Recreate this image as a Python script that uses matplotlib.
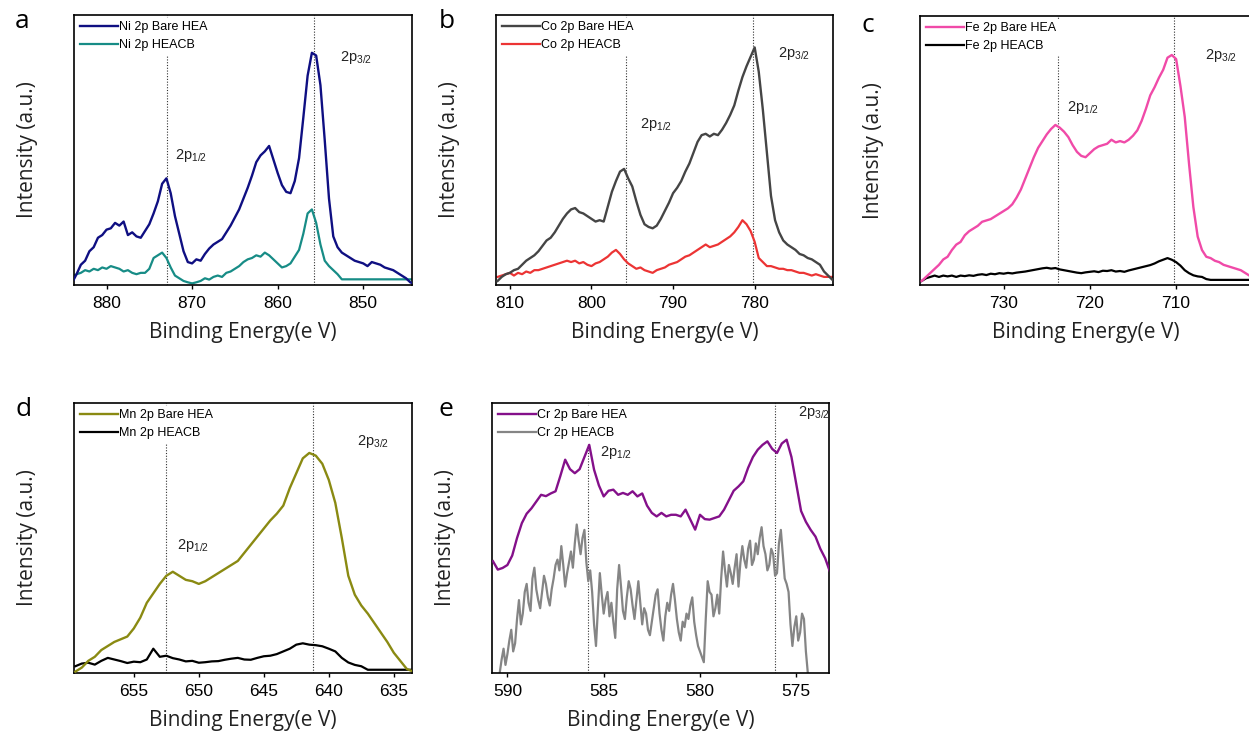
#!/usr/bin/env python3
"""
XPS 2p spectra of bare HEA vs HEACB (Ni, Co, Fe, Mn, Cr), five panels.
"""

import numpy as np
import matplotlib
matplotlib.use("Agg")
import matplotlib.pyplot as plt

# ---------------- data (intensity in arbitrary units, 0-100) ----------------
# Ni 2p : 884.0 eV downward, 0.5 eV step
ni_start, ni_step = 884.0, 0.5
ni_bare = [1, 4, 7.5, 9, 12.5, 14, 17.5, 18.5, 20.5, 21, 23, 22, 23.5, 18.5, 19.5, 18,
           17.5, 20, 22.5, 26.5, 31, 37.5, 39.5, 34, 25.5, 19, 12.5, 8.5, 8, 9.5, 9, 11.5,
           13.5, 15, 16, 17, 19.5, 22, 25, 28, 32, 36, 40.5, 45.5, 48, 49.5, 51.5, 46.5,
           41.5, 37, 34.5, 34, 38.5, 47, 62, 77.5, 86, 85, 74, 53.7, 32, 18, 14, 12, 11,
           10, 9, 8.5, 8, 7, 8.5, 8, 7.5, 6.5, 6, 5.5, 4.5, 3.5, 2.5, 1, 0.3]
ni_heacb = [3, 4, 4.5, 5.5, 5, 6, 5.5, 6.5, 6, 7, 6.5, 6, 5, 5.5, 4.5, 4, 4.5, 4.5, 6,
            10, 11, 12, 10, 6.5, 3.5, 2.5, 1.5, 1, 0.6, 1, 1.5, 2.5, 2, 3, 3.5, 3, 4.5,
            5, 6, 7, 8.5, 9.5, 10, 11, 10.5, 12, 11, 9.5, 8, 6.5, 7, 8, 10.5, 13, 19,
            26.5, 28, 23, 15, 9, 7, 5.5, 4, 2.1, 2.1, 2.1, 2.1, 2.1, 2.1, 2.1, 2.1, 2.1,
            2.1, 2.1, 2.1, 2.1, 2.1, 2.1, 2.1, 2.1, 2.1]

# Co 2p : 811.5 eV downward, 0.5 eV step
co_start, co_step = 811.5, 0.5
co_bare = [1.5, 3, 4, 4.5, 5.5, 6, 7.5, 9, 10, 11, 12.5, 14.5, 16.5, 17.5, 19.5, 22,
           24.5, 26.5, 28, 28.5, 27, 26.5, 25.5, 24.5, 23.5, 24, 23.5, 29, 34.5, 38.5,
           42, 43, 39.5, 36.5, 31, 26, 22.5, 21.5, 21, 22, 24.5, 27.5, 30.5, 34, 36,
           38.5, 42, 45, 49, 53, 55.5, 56, 55, 56, 55.5, 57.5, 60, 63, 66.5, 72, 77, 81,
           84.5, 88, 79, 65, 49, 33, 24, 19.5, 16.5, 15, 14, 13, 11.5, 11, 10, 9.5, 8.5,
           7.5, 5, 3.5, 2]
co_heacb = [3, 3.5, 4, 4.5, 3.5, 4.5, 4, 5, 4.5, 5.5, 5.5, 6, 6.5, 7, 7.5, 8, 8.5, 9,
            8.5, 9, 8, 8.5, 7.5, 7, 8, 8.5, 9.5, 10.5, 12, 13, 11.5, 9.5, 8, 7, 6, 6.5,
            5.5, 5, 4.5, 5.5, 6, 6.5, 7.5, 8, 8.5, 9.5, 10.5, 11, 12, 13, 14, 15, 14,
            14.5, 15, 16, 17, 18, 19.5, 21.5, 24, 22.5, 20, 16, 10, 8.5, 7, 7, 6.5, 6, 6,
            5.5, 5.5, 5, 4.5, 4.5, 4, 3.5, 4, 3.5, 3, 3, 3]

# Fe 2p : 739.5 eV downward, 0.5 eV step
fe_start, fe_step = 739.5, 0.5
fe_bare = [1.5, 3, 4.5, 6, 7.5, 9.5, 10.5, 13, 15, 16, 18.5, 20, 21, 22, 23.5, 24, 24.5,
           25.5, 26.5, 27.5, 28.5, 30, 32.5, 35.5, 39.5, 43.5, 47.5, 51, 53.5, 56, 58,
           59.5, 58.5, 57, 55, 52, 49.5, 48, 47.5, 49, 50.5, 51.5, 52, 52.5, 54, 53, 53.5,
           53, 54, 55.5, 57.5, 61, 65.5, 70.5, 73.5, 77, 80, 84.5, 85.5, 84, 74, 62.5, 45,
           29, 18, 13, 10.5, 10, 9, 8.5, 7.5, 7, 6.5, 6, 5.5, 4.5, 3.5]
fe_heacb = [1.5, 2.5, 3, 3.5, 3, 3.5, 3.2, 3.5, 3, 3.5, 3.3, 3.6, 3.4, 3.8, 4, 3.7, 4.2,
            4, 4.4, 4.2, 4.5, 4.3, 4.6, 4.8, 5, 5.3, 5.6, 5.9, 6.2, 6.4, 6.1, 6.3, 5.8,
            5.5, 5.2, 4.9, 4.6, 4.4, 4.7, 4.9, 5.1, 4.8, 5.3, 5.2, 5.5, 5, 5.2, 4.9, 5.4,
            5.8, 6.2, 6.6, 7, 7.4, 8, 8.8, 9.4, 10, 9.4, 8.5, 7.2, 5.5, 4.4, 3.6, 3.2, 3,
            2.2, 1.9, 1.9, 1.9, 1.9, 1.9, 1.9, 1.9, 1.9, 1.9, 1.9]

# Mn 2p : 659.5 eV downward, 0.5 eV step
mn_start, mn_step = 659.5, 0.5
mn_bare = [0.5, 2, 4.5, 6, 8.5, 10, 11.5, 12.5, 13.5, 16.5, 20.5, 26, 29.5, 33, 36, 37.5,
           36, 34.5, 34, 33, 34, 35.5, 37, 38.5, 40, 41.5, 44.5, 47.5, 50.5, 53.5, 56.5,
           59, 62, 68.5, 74, 79.5, 81.5, 80.5, 77.5, 71.5, 63, 50, 36, 29, 25, 22, 18.5,
           15, 11.5, 7.5, 4.5, 1.5, 0.5]
mn_heacb = [2.5, 3.5, 3.8, 3.1, 4.5, 5.6, 5, 4.4, 3.7, 4.2, 4, 5, 9, 6, 6.4, 5.5, 5, 4.3,
            4.5, 3.8, 4, 4.3, 4.4, 4.9, 5.3, 5.6, 5, 4.9, 5.6, 6.2, 6.4, 7, 8, 9, 10.5,
            11, 10.5, 10.3, 9.9, 9, 8, 5.6, 3.9, 3, 2.5, 1.2, 1.2, 1.2, 1.2, 1.2, 1.2,
            1.2, 1.2]

# Cr 2p : bare from 590.75 eV (0.25 eV step), HEACB from 590.4 eV (0.1 eV step)
cr_bare_start, cr_bare_step = 590.75, 0.25
cr_bare = [41.4, 38.3, 38.9, 40, 43.5, 50, 55.5, 59, 61, 63.5, 66, 65.5, 66.5, 67.3, 73,
           79, 75.5, 74, 75.5, 80, 84.5, 75.3, 69.5, 65.4, 67.5, 67.9, 66, 66.7, 66, 67.3,
           65.4, 66.5, 62, 59.3, 58, 59.3, 58, 58.6, 58.6, 58, 60.5, 56.8, 53.1, 58.6, 57,
           56.8, 57.4, 58, 60.5, 64, 67.5, 69.1, 71, 76, 80, 82.7, 84.5, 85.8, 83, 81.5,
           85, 86.4, 80, 70, 60, 56, 53, 50.5, 46, 42.5, 37.5]
cr_heacb_start, cr_heacb_step = 590.4, 0.1
cr_heacb = [0, 5, 9, 3, 7, 12, 16, 8, 11, 20, 27, 18, 22, 30, 33, 26, 23, 35, 39, 31,
            27, 24, 30, 36, 33, 28, 25, 31, 35, 40, 42, 38, 47, 40, 32, 37, 41, 45, 39, 48,
            55, 49, 44, 50, 53, 41, 34, 38, 30, 18, 10, 24, 37, 29, 22, 27, 30, 21, 26, 19,
            13, 31, 40, 32, 23, 20, 28, 34, 31, 25, 20, 27, 34, 26, 18, 24, 22, 16, 14, 19,
            24, 29, 31, 22, 16, 12, 21, 26, 23, 29, 33, 27, 20, 15, 12, 19, 17, 22, 20, 25,
            28, 19, 14, 10, 8, 6, 4, 20, 34, 30, 29, 21, 24, 29, 22, 35, 45, 38, 32, 40,
            37, 33, 39, 44, 32, 41, 47, 42, 39, 46, 49, 40, 42, 48, 44, 50, 54, 47, 44, 38,
            40, 46, 44, 36, 37, 48, 53, 44, 35, 33, 30, 18, 10, 17, 21, 12, 15, 22, 20, 8,
            0]

# peak positions (dotted lines) and axis limits, eV
panels = [
    dict(tag="a", el="Ni", start=ni_start, step=ni_step, bare=ni_bare, cb=ni_heacb,
         c_bare="#0f0f82", c_cb="#178c86", peaks=(872.9, 855.7), xlim=(883.8, 844.3),
         lab12=(872.0, 48), lab32=(852.7, 84.4)),
    dict(tag="b", el="Co", start=co_start, step=co_step, bare=co_bare, cb=co_heacb,
         c_bare="#454545", c_cb="#ec3434", peaks=(795.8, 780.2), xlim=(811.7, 770.4),
         lab12=(794.1, 59.3), lab32=(777.2, 85.9)),
    dict(tag="c", el="Fe", start=fe_start, step=fe_step, bare=fe_bare, cb=fe_heacb,
         c_bare="#f04aa8", c_cb="#000000", peaks=(723.7, 710.3), xlim=(739.7, 701.2),
         lab12=(722.7, 65.8), lab32=(706.7, 85.5)),
    dict(tag="d", el="Mn", start=mn_start, step=mn_step, bare=mn_bare, cb=mn_heacb,
         c_bare="#8a8a12", c_cb="#000000", peaks=(652.5, 641.2), xlim=(659.6, 633.6),
         lab12=(651.7, 47.4), lab32=(637.8, 85.6)),
    dict(tag="e", el="Cr", start=(cr_bare_start, cr_heacb_start),
         step=(cr_bare_step, cr_heacb_step), bare=cr_bare, cb=cr_heacb,
         c_bare="#84108a", c_cb="#858585", peaks=(585.8, 576.1), xlim=(590.8, 573.3),
         lab12=(585.2, 81.5), lab32=(574.9, 96.3)),
]

# axes boxes in pixels: left, right, top, bottom
boxes = {"a": (74, 412, 15, 285), "b": (496, 833, 15, 285), "c": (920, 1252, 16, 285),
         "d": (74, 412, 403, 673), "e": (492, 829, 403, 673)}
tag_pos = {"a": (22, 22), "b": (447, 22), "c": (868, 26), "d": (24, 410), "e": (446, 410)}
ticks = {"a": [880, 870, 860, 850], "b": [810, 800, 790, 780], "c": [730, 720, 710],
         "d": [655, 650, 645, 640, 635], "e": [590, 585, 580, 575]}

W, H = 1249, 731


def energies(start, step, n):
    return start - step * np.arange(n)


def main():
    plt.rcParams['font.family'] = ['Liberation Sans', 'DejaVu Sans']
    fig = plt.figure(figsize=(W / 100, H / 100), dpi=100)

    for p in panels:
        l, r, t, b = boxes[p["tag"]]
        ax = fig.add_axes([l / W, 1 - b / H, (r - l) / W, (b - t) / H])

        if isinstance(p["start"], tuple):
            s_bare, s_cb = p["start"]
            d_bare, d_cb = p["step"]
        else:
            s_bare = s_cb = p["start"]
            d_bare = d_cb = p["step"]
        x_bare = energies(s_bare, d_bare, len(p["bare"]))
        x_cb = energies(s_cb, d_cb, len(p["cb"]))

        ax.plot(x_bare, p["bare"], color=p["c_bare"], lw=1.7,
                label=f'{p["el"]} 2p Bare HEA', zorder=3)
        ax.plot(x_cb, p["cb"], color=p["c_cb"], lw=1.6,
                label=f'{p["el"]} 2p HEACB', zorder=2)

        for pk in p["peaks"]:
            ax.axvline(pk, color="#333333", ls=(0, (1, 1.5)), lw=0.8, zorder=1)

        ax.text(*p["lab12"], r'2p$\mathregular{_{1/2}}$', fontsize=10.5,
                ha="left", va="center", color="#222222")
        ax.text(*p["lab32"], r'2p$\mathregular{_{3/2}}$', fontsize=10.5,
                ha="left", va="center", color="#222222")

        ax.set_xlim(*p["xlim"])
        ax.set_ylim(0, 100)
        ax.set_xticks(ticks[p["tag"]])
        ax.set_yticks([])
        ax.tick_params(axis="x", direction="out", length=3, width=1,
                       labelsize=12.5, pad=5)
        for s in ax.spines.values():
            s.set_linewidth(1.2)

        ax.set_xlabel("Binding Energy(e V)", fontsize=15, family="Open Sans",
                      labelpad=8, color="#222222")
        ax.set_ylabel("Intensity (a.u.)", fontsize=15, family="Open Sans",
                      labelpad=26, color="#222222")

        leg = ax.legend(loc="upper left", fontsize=9, frameon=True, fancybox=False,
                        borderaxespad=0.2, handlelength=3.0, handletextpad=0.1,
                        borderpad=0.3, labelspacing=0.45)
        leg.get_frame().set_edgecolor("none")
        leg.get_frame().set_facecolor("white")
        leg.get_frame().set_alpha(1)

        tx, ty = tag_pos[p["tag"]]
        fig.text(tx / W, 1 - ty / H, p["tag"], fontsize=19, family="Open Sans",
                 ha="center", va="center")

    fig.savefig("out.png", dpi=100)
    plt.close(fig)


if __name__ == "__main__":
    main()
